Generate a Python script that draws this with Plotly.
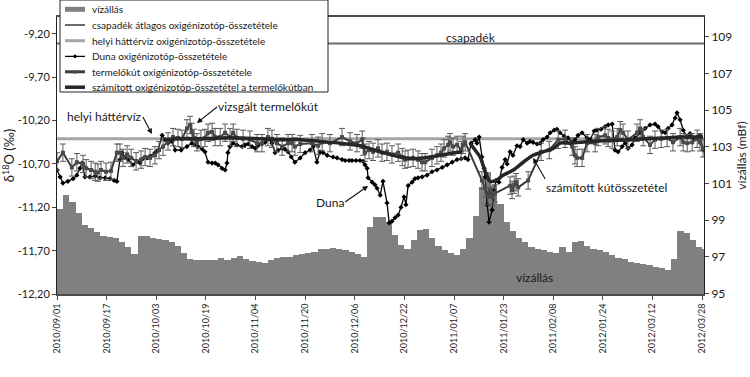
import plotly.graph_objects as go

# ---------------- data ----------------
tick_labels = ["2010/09/01", "2010/09/17", "2010/10/03", "2010/10/19", "2010/11/04",
               "2010/11/20", "2010/12/06", "2010/12/22", "2011/01/07", "2011/01/23",
               "2011/02/08", "2012/01/24", "2012/03/12", "2012/03/28"]
tick_index = list(range(0, 209, 16))

# water level (vízállás, mBf), one value per pair of categories
level_index = list(range(1, 210, 2))
level_mbf = [99.6, 100.35, 100.0, 99.4, 98.75, 98.56, 98.35, 98.12, 98.08, 98.0,
             97.83, 97.55, 97.15, 98.14, 98.12, 98.02, 97.96, 97.9, 97.8, 97.6,
             97.2, 96.87, 96.8, 96.83, 96.8, 96.83, 96.92, 96.85, 96.95, 97.05,
             96.9, 96.75, 96.72, 96.65, 96.8, 96.95, 97.01, 97.01, 97.1, 97.15,
             97.2, 97.28, 97.41, 97.43, 97.46, 97.4, 97.37, 97.28, 97.15, 97.0,
             98.6, 99.19, 99.15, 98.9, 98.2, 97.65, 97.45, 97.9, 98.45, 98.5,
             98.05, 97.6, 97.38, 97.2, 97.1, 97.4, 98.0, 99.2, 100.8, 101.6,
             100.9, 99.9, 98.9, 98.4, 98.0, 97.83, 97.55, 97.4, 97.37, 97.28,
             97.2, 97.55, 97.25, 97.83, 97.88, 97.6, 97.45, 97.35, 97.28, 97.1,
             96.95, 96.9, 96.74, 96.65, 96.6, 96.55, 96.45, 96.37, 96.3, 96.9,
             98.4, 98.3, 97.9, 97.55, 97.4]

# Danube (Duna) d18O
duna_index = [0.0, 1.0, 1.9, 3.5, 5.2, 6.4, 7.4, 8.1, 9.0, 10.6,
              12.3, 13.9, 15.5, 17.1, 18.4, 19.3, 20.3, 21.0, 21.9, 22.9,
              24.5, 25.8, 26.8, 27.7, 29.0, 30.0, 31.6, 32.6, 33.9, 34.8,
              35.8, 37.1, 38.1, 40.0, 41.9, 43.5, 44.5, 45.5, 46.8, 47.7,
              48.7, 50.0, 51.0, 51.9, 53.2, 54.2, 54.8, 55.1, 55.8, 56.8,
              58.0, 59.7, 60.6, 61.6, 62.9, 63.9, 64.8, 66.1, 67.1, 68.0,
              69.3, 70.3, 71.3, 72.6, 73.5, 74.5, 75.5, 76.7, 78.4, 80.0,
              81.6, 82.6, 83.8, 84.8, 85.8, 87.1, 89.0, 90.3, 91.9, 92.9,
              94.2, 95.1, 96.4, 97.7, 98.7, 99.3, 100.0, 100.3, 101.6, 102.5,
              103.2, 104.2, 105.1, 106.4, 107.1, 108.0, 109.0, 110.0, 110.9, 111.9,
              112.5, 113.2, 114.5, 115.4, 116.4, 117.7, 119.3, 120.9, 122.5, 124.2,
              125.8, 127.4, 129.0, 130.3, 131.6, 132.5, 133.5, 134.8, 135.4, 136.1,
              137.0, 137.7, 138.0, 138.7, 139.3, 140.3, 140.9, 141.6, 142.5, 143.5,
              144.5, 145.1, 146.1, 147.0, 148.3, 149.3, 150.3, 151.6, 152.5, 153.5,
              154.8, 155.8, 156.7, 158.0, 159.0, 160.3, 161.2, 162.2, 163.5, 164.8,
              166.1, 167.0, 168.0, 169.3, 170.9, 171.9, 173.2, 174.1, 175.4, 176.7,
              177.7, 179.0, 179.9, 180.9, 182.2, 183.2, 184.1, 185.4, 186.4, 188.0,
              189.6, 191.2, 192.8, 193.8, 195.1, 196.1, 197.0, 198.3, 199.3, 199.9,
              200.9, 201.9, 203.2, 204.1, 205.1, 206.4, 207.3, 208.3]
duna_d18o = [-10.77, -10.85, -10.92, -10.90, -10.87, -10.83, -10.75, -10.69, -10.85, -10.85,
             -10.84, -10.86, -10.86, -10.87, -10.89, -10.90, -10.65, -10.57, -10.62, -10.65,
             -10.71, -10.67, -10.69, -10.64, -10.63, -10.61, -10.57, -10.54, -10.37, -10.42,
             -10.46, -10.44, -10.54, -10.54, -10.50, -10.46, -10.48, -10.50, -10.53, -10.56,
             -10.68, -10.69, -10.69, -10.71, -10.75, -10.77, -10.69, -10.57, -10.50, -10.46,
             -10.48, -10.50, -10.48, -10.47, -10.50, -10.52, -10.49, -10.47, -10.45, -10.41,
             -10.46, -10.57, -10.54, -10.52, -10.53, -10.56, -10.62, -10.68, -10.63, -10.57,
             -10.54, -10.50, -10.68, -10.56, -10.57, -10.60, -10.62, -10.63, -10.65, -10.66,
             -10.66, -10.66, -10.66, -10.66, -10.67, -10.71, -10.75, -10.86, -10.91, -10.94,
             -10.98, -11.06, -10.90, -11.15, -11.38, -11.36, -11.32, -11.29, -11.20, -11.08,
             -11.17, -10.95, -10.91, -10.87, -10.86, -10.85, -10.83, -10.79, -10.77, -10.74,
             -10.71, -10.68, -10.65, -10.64, -10.63, -10.65, -10.46, -10.42, -10.46, -10.39,
             -10.62, -10.75, -10.85, -11.17, -11.37, -11.23, -11.00, -10.89, -10.91, -10.74,
             -10.65, -10.70, -10.56, -10.60, -10.49, -10.50, -10.42, -10.46, -10.44, -10.45,
             -10.47, -10.46, -10.42, -10.39, -10.34, -10.31, -10.30, -10.34, -10.38, -10.40,
             -10.45, -10.42, -10.37, -10.34, -10.40, -10.42, -10.32, -10.31, -10.30, -10.27,
             -10.25, -10.24, -10.54, -10.56, -10.50, -10.46, -10.52, -10.48, -10.40, -10.34,
             -10.29, -10.25, -10.24, -10.27, -10.33, -10.34, -10.29, -10.25, -10.17, -10.11,
             -10.19, -10.31, -10.39, -10.35, -10.40, -10.39, -10.37, -10.54]

# production well (termelőkút) d18O, with error
well_index = [0.0, 1.9, 4.8, 6.4, 8.4, 9.4, 11.0, 12.3, 13.2, 14.2,
              15.8, 17.4, 19.3, 20.3, 21.3, 22.6, 23.9, 25.5, 27.1, 28.4,
              30.0, 31.6, 32.9, 34.2, 35.8, 37.4, 39.0, 40.3, 41.9, 42.9,
              43.5, 44.2, 45.1, 46.4, 47.7, 48.7, 50.0, 51.0, 52.6, 54.2,
              55.8, 56.8, 58.0, 60.0, 62.2, 64.5, 66.1, 68.0, 69.3, 70.9,
              72.6, 74.5, 75.8, 76.7, 78.4, 82.2, 84.2, 85.5, 88.0, 91.9,
              94.5, 96.7, 98.4, 98.7, 99.3, 100.6, 101.9, 103.5, 104.8, 106.4,
              108.0, 110.0, 111.3, 112.2, 113.2, 114.8, 116.4, 117.7, 118.7, 120.9,
              122.5, 123.8, 124.8, 126.1, 126.7, 127.7, 129.0, 130.3, 130.9, 131.6,
              137.0, 138.0, 139.0, 139.6, 140.3, 141.2, 146.1, 146.7, 147.4, 148.0,
              148.7, 151.9, 156.1, 158.7, 161.6, 163.8, 166.1, 167.0, 167.7, 169.3,
              170.9, 173.5, 174.5, 176.7, 177.7, 179.0, 180.6, 181.6, 182.5, 184.1,
              187.0, 188.0, 189.0, 191.2, 192.8, 194.8, 196.7, 198.6, 200.9, 201.9,
              203.2, 204.8, 206.4, 207.3, 208.3]
well_d18o = [-10.67, -10.57, -10.74, -10.68, -10.70, -10.75, -10.77, -10.79, -10.80, -10.77,
             -10.79, -10.78, -10.57, -10.57, -10.63, -10.59, -10.63, -10.67, -10.65, -10.62,
             -10.63, -10.60, -10.54, -10.50, -10.44, -10.39, -10.40, -10.41, -10.29, -10.25,
             -10.33, -10.40, -10.45, -10.41, -10.40, -10.34, -10.33, -10.39, -10.39, -10.34,
             -10.39, -10.34, -10.40, -10.41, -10.42, -10.46, -10.46, -10.39, -10.41, -10.46,
             -10.50, -10.46, -10.46, -10.50, -10.47, -10.46, -10.49, -10.45, -10.46, -10.39,
             -10.44, -10.46, -10.42, -10.50, -10.57, -10.54, -10.56, -10.52, -10.57, -10.56,
             -10.59, -10.57, -10.62, -10.65, -10.64, -10.63, -10.65, -10.68, -10.68, -10.63,
             -10.60, -10.57, -10.52, -10.48, -10.45, -10.50, -10.48, -10.54, -10.48, -10.45,
             -10.89, -10.98, -11.07, -11.00, -11.08, -11.04, -10.95, -11.00, -10.94, -10.91,
             -10.97, -10.89, -10.56, -10.54, -10.42, -10.41, -10.50, -10.60, -10.63, -10.63,
             -10.46, -10.46, -10.39, -10.37, -10.40, -10.42, -10.39, -10.31, -10.34, -10.42,
             -10.34, -10.29, -10.39, -10.48, -10.42, -10.41, -10.40, -10.45, -10.39, -10.45,
             -10.46, -10.45, -10.41, -10.45, -10.52]
well_error = 0.1

# calculated well composition (számított), two segments
calc_index = [34.8, 39.7, 46.1, 52.6, 59.0, 65.5, 71.9, 78.4, 84.8, 91.3,
              97.7, 104.2, 110.6, 115.4, 120.3, 125.1, 130.6, None,
              133.2, 134.8, 136.4, 138.0, 139.6, 141.6, 143.8, 147.1, 150.3, 153.5,
              156.7, 160.0, 162.2, 165.4, 168.7, 171.9, 179.3, 184.8, 195.4, 200.9, 208.3]
calc_d18o = [-10.42, -10.41, -10.41, -10.40, -10.40, -10.41, -10.42, -10.42, -10.44, -10.46,
             -10.49, -10.56, -10.62, -10.64, -10.62, -10.59, -10.56, None,
             -10.46, -10.54, -10.62, -10.78, -10.90, -10.89, -10.83, -10.77, -10.68, -10.60,
             -10.56, -10.52, -10.46, -10.46, -10.45, -10.44, -10.43, -10.42, -10.40, -10.39, -10.39]

background_d18o = -10.41   # helyi háttérvíz
precip_d18o = -9.31        # csapadék átlag
line_span = [0, 209]

left_ticks = [-12.2, -11.7, -11.2, -10.7, -10.2, -9.7, -9.2]
left_labels = ["-12,20", "-11,70", "-11,20", "-10,70", "-10,20", "-9,70", "-9,20"]
right_ticks = [95, 97, 99, 101, 103, 105, 107, 109]

# ---------------- styling / layout ----------------
W, H = 750, 377
ML, MR, MT, MB = 57, 46, 17, 83
PW, PH = W - ML - MR, H - MT - MB
FONT = "Lato"
TXT = "#1a1a1a"

C_LEVEL = "#808080"
C_PRECIP = "#6b6b6b"
C_BACK = "#a6a6a6"
C_DUNA = "#000000"
C_WELL = "#3c3c3c"
C_CALC = "#262626"


def paper(px, py):
    return (px - ML) / PW, (H - MB - py) / PH


fig = go.Figure()

fig.add_trace(go.Bar(x=level_index, y=level_mbf, width=2, marker=dict(color=C_LEVEL, line=dict(width=0)),
                     name="vízállás", yaxis="y", showlegend=False))

fig.add_trace(go.Scatter(x=line_span, y=[precip_d18o] * 2, mode="lines", line=dict(color=C_PRECIP, width=2),
                         yaxis="y2", showlegend=False, name="csapadék"))
fig.add_trace(go.Scatter(x=line_span, y=[background_d18o] * 2, mode="lines", line=dict(color=C_BACK, width=3),
                         yaxis="y2", showlegend=False, name="helyi háttérvíz"))
fig.add_trace(go.Scatter(x=duna_index, y=duna_d18o, mode="lines+markers",
                         line=dict(color=C_DUNA, width=1.3),
                         marker=dict(symbol="diamond", size=4, color=C_DUNA),
                         yaxis="y2", showlegend=False, name="Duna"))
fig.add_trace(go.Scatter(x=well_index, y=well_d18o, mode="lines+markers",
                         line=dict(color=C_WELL, width=2),
                         marker=dict(symbol="square", size=4, color="#4a4a4a"),
                         error_y=dict(type="constant", value=well_error, thickness=1, width=3, color="#5a5a5a"),
                         yaxis="y2", showlegend=False, name="termelőkút"))
fig.add_trace(go.Scatter(x=calc_index, y=calc_d18o, mode="lines", connectgaps=False,
                         line=dict(color=C_CALC, width=3.5, shape="spline", smoothing=0.8),
                         yaxis="y2", showlegend=False, name="számított"))

# ---------- manual legend (box, symbols, texts) ----------
shapes = []
annotations = []
bx0, by0 = paper(60, 0)
bx1, by1 = paper(328, 92)
shapes.append(dict(type="rect", xref="paper", yref="paper", x0=bx0, x1=bx1, y0=by1, y1=by0,
                   fillcolor="white", line=dict(color="#222", width=1), layer="above"))
legend_rows = [
    ("vízállás", C_LEVEL, 5, None),
    ("csapadék átlagos oxigénizotóp-összetétele", C_PRECIP, 2, None),
    ("helyi háttérvíz oxigénizotóp-összetétele", C_BACK, 3, None),
    ("Duna oxigénizotóp-összetétele", C_DUNA, 1.3, "diamond"),
    ("termelőkút oxigénizotóp-összetétele", C_WELL, 3, "square"),
    ("számított oxigénizotóp-összetétel a termelőkútban", C_CALC, 3.5, None),
]
row_py = [9.3, 25, 40.7, 56.4, 71.8, 87.2]
for (label, col, lw, mk), py in zip(legend_rows, row_py):
    sx0, sy = paper(65, py)
    sx1, _ = paper(85, py)
    shapes.append(dict(type="line", xref="paper", yref="paper", x0=sx0, x1=sx1, y0=sy, y1=sy,
                       line=dict(color=col, width=lw), layer="above"))
    if mk:
        mx0, my0 = paper(73.5, py - 1.8)
        mx1, my1 = paper(76.5, py + 1.8)
        shapes.append(dict(type="rect" if mk == "square" else "circle", xref="paper", yref="paper",
                           x0=mx0, x1=mx1, y0=my1, y1=my0,
                           fillcolor="#555" if mk == "square" else "#000",
                           line=dict(width=0), layer="above"))
    tx, ty = paper(90, py)
    annotations.append(dict(xref="paper", yref="paper", x=tx, y=ty, xanchor="left", yanchor="middle",
                            text=label, showarrow=False, font=dict(family=FONT, size=10, color=TXT)))

# ---------- in-plot labels without arrows ----------
plain_labels = [
    ("csapadék", 133.5, -9.236),
    ("vízállás", 154.1, -12.004),
]
for text, lx, ly in plain_labels:
    annotations.append(dict(xref="x", yref="y2", x=lx, y=ly, text=text, showarrow=False,
                            xanchor="center", yanchor="middle",
                            font=dict(family=FONT, size=12, color=TXT)))

# ---------- labels with arrows: text anchored at arrow tail ----------
arrow_labels = [  # text, head_x, head_y, tail_x, tail_y, xanchor, yanchor
    ("helyi háttérvíz", 30.6, -10.355, 27.7, -10.158, "right", "middle"),
    ("vizsgált termelőkút", 45.1, -10.228, 51.6, -10.043, "left", "middle"),
    ("Duna", 100.3, -10.954, 92.9, -11.139, "right", "middle"),
    ("számított kútösszetétel", 153.5, -10.631, 157.4, -10.874, "left", "top"),
]
for text, hx, hy, tx_, ty_, xa, ya in arrow_labels:
    annotations.append(dict(xref="x", yref="y2", axref="x", ayref="y2", x=hx, y=hy, ax=tx_, ay=ty_,
                            text=text, xanchor=xa, yanchor=ya, borderpad=0,
                            font=dict(family=FONT, size=12, color=TXT),
                            showarrow=True, arrowhead=2, arrowsize=1, arrowwidth=1.1,
                            arrowcolor="#111", standoff=0, startstandoff=0))

fig.update_layout(
    width=W, height=H, template="none",
    margin=dict(l=ML, r=MR, t=MT, b=MB, pad=0),
    paper_bgcolor="white", plot_bgcolor="white",
    font=dict(family=FONT, size=11, color=TXT),
    bargap=0, showlegend=False, hovermode=False,
    xaxis=dict(range=[0, 208.6], tickmode="array", tickvals=tick_index, ticktext=tick_labels,
               tickangle=-90, tickfont=dict(size=9), showline=True, linecolor="#4d4d4d", linewidth=2,
               mirror=True, ticks="outside", ticklen=4, tickcolor="#4d4d4d", showgrid=False,
               zeroline=False, automargin=False),
    yaxis=dict(range=[94.97, 110.08], side="right", tickmode="array", tickvals=right_ticks,
               tickfont=dict(size=12), title=dict(text="vízállás (mBf)", font=dict(size=12), standoff=6),
               showline=True, linecolor="#222", linewidth=1, ticks="outside", ticklen=4,
               showgrid=False, zeroline=False, automargin=False),
    yaxis2=dict(range=[-12.2, -9.005], overlaying="y", side="left", tickmode="array",
                tickvals=left_ticks, ticktext=left_labels, tickfont=dict(size=11),
                title=dict(text="δ<sup>18</sup>O (‰)", font=dict(size=13), standoff=2),
                showline=True, linecolor="#222", linewidth=1, ticks="outside", ticklen=4,
                showgrid=False, zeroline=False, automargin=False),
    shapes=shapes,
    annotations=annotations,
)

fig.write_html("out.html",
               config={"displayModeBar": False, "staticPlot": True},
               post_script="document.body.style.margin='0';document.body.style.overflow='hidden';")
